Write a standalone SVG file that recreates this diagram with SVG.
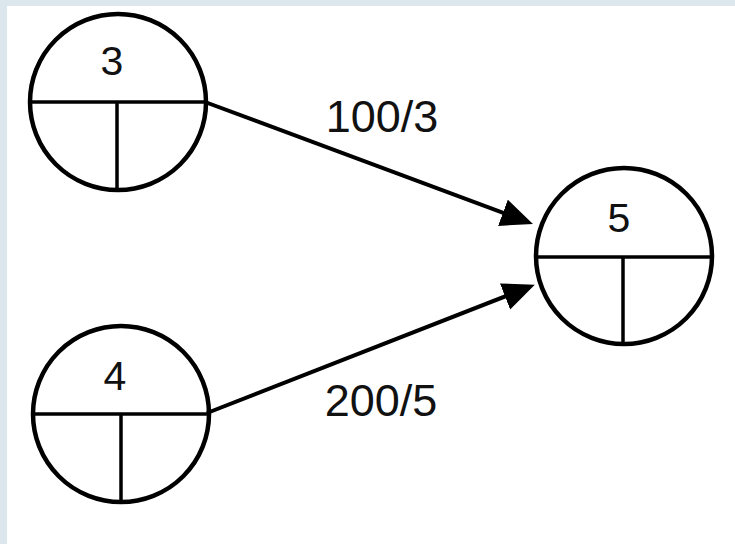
<svg xmlns="http://www.w3.org/2000/svg" width="735" height="544" viewBox="0 0 735 544">
  <style>
    .ring { fill: none; stroke: #000; stroke-width: 4.5; }
    .split { stroke: #000; stroke-width: 3.5; fill: none; }
    .num { font-family: "Liberation Sans", Arial, sans-serif; font-size: 41px; fill: #111; text-anchor: middle; }
    .edge { stroke: #000; stroke-width: 4; fill: none; }
    .lbl { font-family: "Liberation Sans", Arial, sans-serif; font-size: 45px; fill: #111; text-anchor: middle; }
  </style>
  <defs>
    <marker id="arrow" markerUnits="userSpaceOnUse" markerWidth="34" markerHeight="30" refX="15" refY="14" orient="auto">
      <path d="M0,0 L32,14 L0,28 z" fill="#000"/>
    </marker>
  </defs>

  <!-- page frame -->
  <rect x="0" y="0" width="735" height="544" fill="#dbe7ec"/>
  <rect x="7" y="6" width="728" height="538" fill="#fff"/>

  <g id="connectors">
    <line class="edge" x1="205" y1="102" x2="517" y2="218" marker-end="url(#arrow)"/>
    <line class="edge" x1="207" y1="413" x2="519" y2="291" marker-end="url(#arrow)"/>
    <text class="lbl" x="382" y="132">100/3</text>
    <text class="lbl" x="381" y="416">200/5</text>
  </g>

  <g id="node3">
    <circle class="ring" cx="118" cy="102" r="88"/>
    <line class="split" x1="30" y1="102" x2="206" y2="102"/>
    <line class="split" x1="117" y1="102" x2="117" y2="190"/>
    <text class="num" x="112" y="75">3</text>
  </g>

  <g id="node4">
    <circle class="ring" cx="121" cy="414" r="88"/>
    <line class="split" x1="33" y1="414" x2="209" y2="414"/>
    <line class="split" x1="121" y1="414" x2="121" y2="502"/>
    <text class="num" x="115" y="390">4</text>
  </g>

  <g id="node5">
    <circle class="ring" cx="624" cy="256" r="88"/>
    <line class="split" x1="536" y1="257" x2="712" y2="257"/>
    <line class="split" x1="623" y1="257" x2="623" y2="344"/>
    <text class="num" x="619" y="232">5</text>
  </g>
</svg>
